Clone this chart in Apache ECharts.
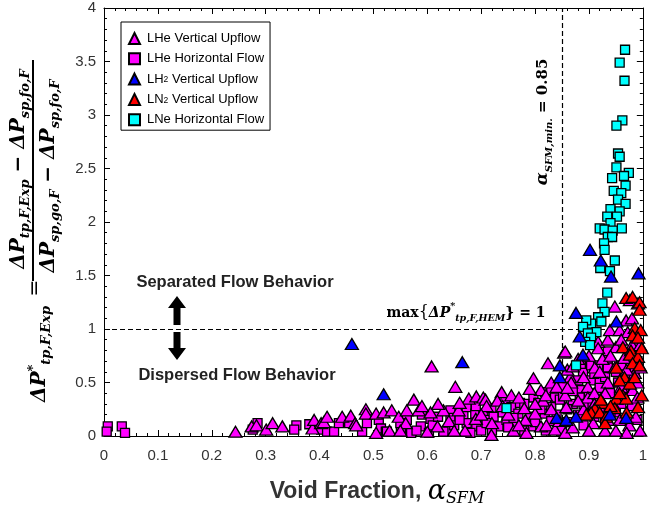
<!DOCTYPE html>
<html><head><meta charset="utf-8">
<script src="https://cdn.jsdelivr.net/npm/echarts@6/dist/echarts.min.js"></script>
<style>html,body{margin:0;padding:0;background:#fff}#c{width:650px;height:513px}</style>
</head><body><div id="c"></div>
<script>
// ---- data (x = void fraction, y = normalized pressure drop) ----
const xTicks = [0,0.1,0.2,0.3,0.4,0.5,0.6,0.7,0.8,0.9,1];
const yTicks = [0,0.5,1,1.5,2,2.5,3,3.5,4];
const seriesNames = ['LHe Vertical Upflow','LHe Horizontal Flow','LH2 Vertical Upflow','LN2 Vertical Upflow','LNe Horizontal Flow'];
const alphaMin = 0.85;
const hemMax = 1;

const lheVertical = [
 [0.244,0.04],[0.274,0.09],[0.283,0.10],[0.301,0.06],[0.313,0.12],[0.331,0.09],[0.387,0.07],[0.390,0.15],[0.403,0.12],[0.408,0.13],
 [0.414,0.18],[0.442,0.18],[0.458,0.19],[0.466,0.12],[0.468,0.10],[0.486,0.25],[0.486,0.21],[0.505,0.21],[0.505,0.03],[0.519,0.22],
 [0.534,0.24],[0.547,0.18],[0.562,0.24],[0.575,0.34],[0.584,0.24],[0.606,0.22],[0.608,0.65],[0.619,0.09],[0.630,0.24],[0.652,0.46],
 [0.658,0.24],[0.677,0.35],[0.691,0.37],[0.704,0.36],[0.708,0.34],[0.719,0.01],[0.738,0.41],[0.756,0.38],[0.782,0.15],[0.784,0.03],
 [0.797,0.54],[0.811,0.43],[0.811,0.09],[0.821,0.10],[0.824,0.68],[0.830,0.50],[0.837,0.06],[0.854,0.78],[0.856,0.79],[0.856,0.38],
 [0.856,0.03],[0.858,0.27],[0.865,0.55],[0.867,0.50],[0.898,0.46],[0.898,0.36],[0.908,0.12],[0.911,0.64],[0.917,0.88],[0.917,0.82],
 [0.922,0.34],[0.935,0.90],[0.935,0.50],[0.935,0.15],[0.939,0.99],[0.948,1.21],[0.948,0.64],[0.950,0.83],[0.957,0.99],[0.957,0.15],
 [0.969,1.08],[0.972,0.97],[0.976,1.27],[0.985,0.59],[0.981,0.43],[0.987,0.18],[0.991,1.24],[0.996,0.64],
 [0.53,0.05],[0.56,0.12],[0.59,0.28],[0.60,0.04],[0.62,0.30],[0.64,0.14],[0.66,0.31],[0.67,0.05],[0.69,0.16],[0.71,0.28],
 [0.72,0.12],[0.73,0.33],[0.75,0.20],[0.76,0.05],[0.77,0.36],[0.78,0.26],[0.79,0.44],[0.80,0.21],[0.815,0.33],[0.83,0.25],
 [0.84,0.46],[0.845,0.14],[0.86,0.62],[0.87,0.08],[0.88,0.72],[0.89,0.25],[0.90,0.05],[0.91,0.40],[0.925,0.72],[0.93,0.05],
 [0.945,0.30],[0.96,0.46],[0.965,0.73],[0.975,0.10],[0.98,0.85],[0.99,0.36],[0.995,0.05],[0.97,0.03],
 [0.86,0.45],[0.87,0.65],[0.88,0.33],[0.89,0.55],[0.90,0.75],[0.91,0.30],[0.92,0.60],[0.93,0.40],[0.94,0.75],[0.95,0.05],
 [0.96,0.90],[0.97,0.62],[0.98,1.10],[0.99,0.50],[0.995,0.85],[0.55,0.05],[0.65,0.05],[0.70,0.20],[0.74,0.28],[0.77,0.10],
 [0.80,0.30],[0.82,0.38]
];
const lheHorizontal = [
 [0.007,0.09],[0.005,0.04],[0.033,0.09],[0.039,0.03],[0.285,0.12],[0.276,0.06],[0.357,0.10],[0.353,0.06],[0.381,0.11],[0.403,0.06],
 [0.414,0.04],[0.427,0.04],[0.436,0.12],[0.455,0.12],[0.479,0.04],[0.488,0.12],[0.510,0.15],[0.514,0.07],[0.523,0.04],[0.525,0.04],
 [0.551,0.07],[0.562,0.15],[0.588,0.09],[0.590,0.20],[0.603,0.03],[0.606,0.16],[0.640,0.06],[0.643,0.24],[0.643,0.17],[0.667,0.20],
 [0.673,0.27],[0.673,0.12],[0.689,0.21],[0.691,0.09],[0.704,0.21],[0.708,0.15],[0.719,0.26],[0.723,0.18],[0.732,0.09],[0.745,0.32],
 [0.747,0.15],[0.756,0.27],[0.763,0.10],[0.769,0.21],[0.772,0.31],[0.791,0.18],[0.793,0.09],[0.797,0.36],[0.806,0.31],[0.818,0.41],
 [0.818,0.21],[0.830,0.43],[0.830,0.27],[0.837,0.36],[0.846,0.34],[0.852,0.38],[0.852,0.46],[0.883,0.43],[0.883,0.36],[0.885,0.66],
 [0.889,0.59],[0.904,0.66],[0.904,0.52],[0.917,0.66],[0.920,0.52],[0.920,0.45],[0.935,0.79],[0.935,0.71],[0.935,0.64],[0.939,0.40],
 [0.954,0.50],[0.985,0.83],[0.985,0.50],
 [0.55,0.12],[0.57,0.03],[0.61,0.10],[0.63,0.04],[0.65,0.10],[0.68,0.03],[0.70,0.05],[0.71,0.12],[0.74,0.22],[0.76,0.17],
 [0.78,0.05],[0.80,0.13],[0.82,0.05],[0.84,0.20],[0.86,0.13],[0.87,0.30],[0.88,0.20],[0.89,0.10],[0.90,0.28],[0.91,0.18],
 [0.92,0.26],[0.93,0.12],[0.95,0.22],[0.96,0.30],[0.97,0.58],[0.98,0.28],[0.99,0.70],
 [0.86,0.25],[0.87,0.42],[0.88,0.52],[0.89,0.30],[0.90,0.40],[0.91,0.58],[0.92,0.35],[0.93,0.55],[0.94,0.22],[0.95,0.60],
 [0.96,0.66],[0.965,0.40],[0.975,0.72],[0.985,0.62],[0.99,0.15],[0.58,0.05],[0.62,0.18],[0.66,0.15],[0.69,0.28],[0.72,0.05],
 [0.75,0.08],[0.78,0.30],[0.81,0.25],[0.83,0.14],[0.85,0.05]
];
const lh2Vertical = [
 [0.460,0.86],[0.519,0.39],[0.665,0.69],[0.840,0.17],[0.846,0.66],[0.846,0.55],[0.858,0.15],[0.876,1.15],[0.876,0.18],
 [0.883,0.93],[0.889,0.76],[0.902,1.74],[0.922,1.64],[0.941,1.49],[0.939,0.20],[0.951,1.07],[0.969,0.17],[0.992,1.52]
];
const ln2Vertical = [
 [0.969,1.29],[0.981,1.30],[0.994,1.25],[0.994,1.18],[0.985,1.01],[0.996,0.99],[0.981,0.94],[0.991,0.92],[0.963,0.83],[0.978,0.80],
 [0.976,0.76],[0.991,0.74],[0.981,0.68],[0.994,0.66],[0.951,0.64],[0.966,0.55],[0.957,0.52],[0.976,0.49],[0.963,0.38],[0.951,0.35],
 [0.969,0.35],[0.926,0.31],[0.911,0.26],[0.904,0.22],[0.920,0.22],[0.948,0.26],[0.991,0.27],[0.998,0.38],[0.932,0.18],[0.895,0.20],
 [0.922,0.34],[0.957,0.40],[0.940,0.28],[0.985,0.55],[0.998,0.82],[0.970,0.22],[0.930,0.12]
];
const lneHorizontal = [
 [0.967,3.61],[0.957,3.49],[0.966,3.32],[0.962,2.95],[0.951,2.90],[0.954,2.64],[0.957,2.61],[0.951,2.51],[0.974,2.46],[0.943,2.41],
 [0.965,2.43],[0.968,2.34],[0.946,2.29],[0.960,2.27],[0.954,2.21],[0.968,2.17],[0.940,2.12],[0.957,2.10],[0.934,2.05],[0.952,2.05],
 [0.940,1.99],[0.920,1.94],[0.929,1.93],[0.961,1.94],[0.944,1.92],[0.935,1.86],[0.943,1.86],[0.928,1.80],[0.929,1.74],[0.948,1.64],
 [0.921,1.57],[0.939,1.54],[0.934,1.34],[0.925,1.24],[0.929,1.16],[0.917,1.11],[0.904,1.05],[0.923,1.07],[0.895,1.08],[0.889,1.02],
 [0.914,0.97],[0.898,0.96],[0.904,0.92],[0.893,0.88],[0.902,0.85],[0.876,0.66],[0.747,0.26]
];

// ---- chart ----
const chart = echarts.init(document.getElementById('c'), null, {renderer:'canvas'});
const serif = '"DejaVu Serif", "Liberation Serif", serif';
const sans = '"Liberation Sans", Arial, sans-serif';
const tri = [13,11];
function sc(name, data, symbol, size, color, z){
  return {name, type:'scatter', data, symbol, symbolSize:size, z,
    itemStyle:{color, borderColor:'#000', borderWidth:1.3, opacity:1},
    emphasis:{disabled:true}, animation:false};
}
const axisCommon = {
  axisLine:{show:true, onZero:false, lineStyle:{color:'#000', width:1}},
  axisTick:{show:true, inside:true, length:6, lineStyle:{color:'#000'}},
  minorTick:{show:true, splitNumber:5, length:3, lineStyle:{color:'#000'}},
  splitLine:{show:false}
};
const legendFmt = {
  'LH2 Vertical Upflow':'{n|LH}{s|2}{n| Vertical Upflow}',
  'LN2 Vertical Upflow':'{n|LN}{s|2}{n| Vertical Upflow}'
};
const fb = {fontWeight:'bold', fontStyle:'italic', fontFamily:serif, fill:'#000'};
chart.setOption({
  animation:false,
  backgroundColor:'#fff',
  grid:{left:104, right:5, top:8, bottom:77, containLabel:false},
  xAxis:[
    Object.assign({type:'value', min:0, max:1, interval:0.1, position:'bottom',
      axisLabel:{show:true, color:'#333', fontSize:15, fontFamily:sans, margin:12,
        formatter:v=>String(+v.toFixed(1))}}, axisCommon),
    Object.assign({type:'value', min:0, max:1, interval:0.1, position:'top', axisLabel:{show:false}}, axisCommon)
  ],
  yAxis:[
    Object.assign({type:'value', min:0, max:4, interval:0.5, position:'left',
      axisLabel:{show:true, color:'#333', fontSize:15, fontFamily:sans, margin:8,
        formatter:v=>String(+v.toFixed(1))}}, axisCommon),
    Object.assign({type:'value', min:0, max:4, interval:0.5, position:'right', axisLabel:{show:false}}, axisCommon)
  ],
  legend:{
    show:true, orient:'vertical', left:121, top:22, padding:[10,6,4,7],
    borderColor:'#000', borderWidth:1, backgroundColor:'#fff',
    itemWidth:11, itemHeight:11, itemGap:7.3, selectedMode:false,
    data:[
      {name:seriesNames[0], icon:'triangle'},
      {name:seriesNames[1], icon:'rect'},
      {name:seriesNames[2], icon:'triangle'},
      {name:seriesNames[3], icon:'triangle'},
      {name:seriesNames[4], icon:'rect'}
    ],
    formatter:n=>legendFmt[n] || ('{n|'+n+'}'),
    textStyle:{color:'#000', fontSize:13, lineHeight:11, fontFamily:sans, padding:[0,0,0,2],
      rich:{n:{fontSize:13, fontFamily:sans, color:'#000', lineHeight:11, verticalAlign:'middle'},
            s:{fontSize:8.5, fontFamily:sans, color:'#000', lineHeight:3, verticalAlign:'bottom'}}}
  },
  series:[
    {type:'scatter', data:[], z:1, silent:true,
      markLine:{silent:true, symbol:'none', animation:false, z:1,
        lineStyle:{color:'#000', type:[5,3], width:1.2},
        label:{show:false},
        data:[{xAxis:alphaMin},{yAxis:hemMax}]}},
    sc(seriesNames[1], lheHorizontal, 'rect', 9, '#FF00FF', 3),
    sc(seriesNames[0], lheVertical, 'triangle', tri, '#FF00FF', 4),
    sc(seriesNames[4], lneHorizontal, 'rect', 9, '#00FFFF', 5),
    sc(seriesNames[3], ln2Vertical, 'triangle', tri, '#FF0000', 5),
    sc(seriesNames[2], lh2Vertical, 'triangle', tri, '#0000FF', 6)
  ],
  graphic:[
    // y-axis formula (rotated)
    {type:'text', x:40, y:354, rotation:Math.PI/2, z:10,
      style:{text:'{b|ΔP}{sup|*}{sub|tp,F,Exp}', align:'center', verticalAlign:'middle',
        rich:{
          b:Object.assign({fontSize:20, lineHeight:26, verticalAlign:'middle'}, fb),
          sup:Object.assign({fontSize:13, verticalAlign:'top', padding:[0,0,12,0]}, fb),
          sub:Object.assign({fontSize:13, verticalAlign:'bottom', padding:[10,0,0,0]}, fb)
        }}},
    {type:'text', x:36, y:288, rotation:Math.PI/2, z:10,
      style:{text:'=', align:'center', verticalAlign:'middle', fontSize:20, fontFamily:serif, fill:'#000'}},
    {type:'text', x:19, y:169, rotation:Math.PI/2, z:10,
      style:{text:'{b|ΔP}{sub|tp,F,Exp}{b| − ΔP}{sub|sp,fo,F}', align:'center', verticalAlign:'middle',
        rich:{
          b:Object.assign({fontSize:20, lineHeight:26, verticalAlign:'middle'}, fb),
          sub:Object.assign({fontSize:13, verticalAlign:'bottom', padding:[10,0,0,0]}, fb)
        }}},
    {type:'line', z:10, shape:{x1:33, y1:60, x2:33, y2:281}, style:{stroke:'#000', lineWidth:2}},
    {type:'text', x:49, y:176, rotation:Math.PI/2, z:10,
      style:{text:'{b|ΔP}{sub|sp,go,F}{b| − ΔP}{sub|sp,fo,F}', align:'center', verticalAlign:'middle',
        rich:{
          b:Object.assign({fontSize:20, lineHeight:26, verticalAlign:'middle'}, fb),
          sub:Object.assign({fontSize:13, verticalAlign:'bottom', padding:[10,0,0,0]}, fb)
        }}},
    // x-axis title
    {type:'text', x:377, y:492, z:10,
      style:{text:'{t|Void Fraction, }{a|α}{s|SFM}', align:'center', verticalAlign:'middle',
        rich:{
          t:{fontSize:23, fontWeight:'bold', fontFamily:sans, fill:'#333', lineHeight:30, verticalAlign:'middle'},
          a:{fontSize:27, fontStyle:'italic', fontFamily:serif, fill:'#000', verticalAlign:'middle'},
          s:{fontSize:16, fontStyle:'italic', fontFamily:serif, fill:'#000', verticalAlign:'bottom', padding:[10,0,0,0]}
        }}},
    // alpha min annotation (rotated)
    {type:'text', x:543, y:122, rotation:Math.PI/2, z:10,
      style:{text:'{a|α}{s|SFM,min.}{b| = 0.85}', align:'center', verticalAlign:'middle',
        rich:{
          a:Object.assign({fontSize:17, lineHeight:22, verticalAlign:'middle'}, fb),
          s:Object.assign({fontSize:10, verticalAlign:'bottom', padding:[8,0,0,0]}, fb),
          b:{fontSize:15, fontWeight:'bold', fontFamily:serif, fill:'#000', verticalAlign:'middle'}
        }}},
    // HEM max annotation
    {type:'text', x:466, y:313, z:10,
      style:{text:'{m|max}{br|{}{b|ΔP}{sup|*}{sub|tp,F,HEM}} = 1', align:'center', verticalAlign:'middle',
        fontSize:14, fontWeight:'bold', fontFamily:serif, fill:'#000',
        rich:{
          m:{fontSize:14, fontWeight:'bold', fontFamily:serif, fill:'#000', lineHeight:22, verticalAlign:'middle'},
          br:{fontSize:16, fontFamily:serif, fill:'#000', verticalAlign:'middle'},
          b:Object.assign({fontSize:14, verticalAlign:'middle'}, fb),
          sup:Object.assign({fontSize:9.5, verticalAlign:'top', padding:[0,0,8,0]}, fb),
          sub:Object.assign({fontSize:9.5, verticalAlign:'bottom', padding:[8,0,0,0]}, fb)
        }}},
    // flow regime labels
    {type:'text', x:235, y:282, z:10,
      style:{text:'Separated Flow Behavior', align:'center', verticalAlign:'middle', fontSize:16.5, fontWeight:'bold', fontFamily:sans, fill:'#222'}},
    {type:'text', x:237, y:375, z:10,
      style:{text:'Dispersed Flow Behavior', align:'center', verticalAlign:'middle', fontSize:16.5, fontWeight:'bold', fontFamily:sans, fill:'#222'}},
    {type:'polygon', z:10, shape:{points:[[177,296],[186,308],[180.5,308],[180.5,325],[173.5,325],[173.5,308],[168,308]]}, style:{fill:'#000'}},
    {type:'polygon', z:10, shape:{points:[[177,360],[186,348],[180.5,348],[180.5,332],[173.5,332],[173.5,348],[168,348]]}, style:{fill:'#000'}}
  ]
});
</script></body></html>
